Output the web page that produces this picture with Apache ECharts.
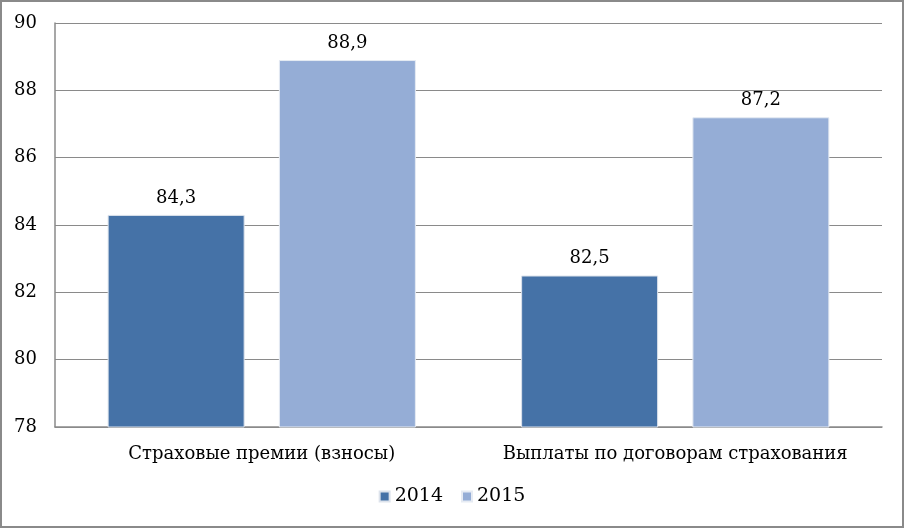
<!DOCTYPE html>
<html><head><meta charset="utf-8">
<script src="https://cdn.jsdelivr.net/npm/echarts@6/dist/echarts.min.js"></script>
<style>html,body{margin:0;padding:0;background:#fff}#c{width:904px;height:528px}</style>
</head><body><div id="c"></div>
<script>
var categories = ['Страховые премии (взносы)', 'Выплаты по договорам страхования'];
var seriesNames = ['2014', '2015'];
var values2014 = [84.3, 82.5];
var values2015 = [88.9, 87.2];
var colors = ['#4572A7', '#95ADD6'];
var font = '"DejaVu Serif", serif';
var fmt = function (p) { return String(p.value).replace('.', ','); };
var chart = echarts.init(document.getElementById('c'));
chart.setOption({
  animation: false,
  textStyle: { fontFamily: font },
  graphic: [{ type: 'rect', shape: { x: 1, y: 1, width: 902, height: 526 }, style: { fill: 'none', stroke: '#8a8a8a', lineWidth: 2 } }],
  legend: {
    bottom: 17, left: 'center', itemWidth: 10, itemHeight: 10, itemGap: 18,
    icon: 'rect', textStyle: { fontSize: 19, color: '#000', fontFamily: font },
    data: seriesNames
  },
  grid: { left: 55, right: 22, top: 23, bottom: 101 },
  xAxis: {
    type: 'category', data: categories,
    axisLine: { lineStyle: { color: '#8a8a8a', width: 1.5 } },
    axisTick: { show: false },
    axisLabel: { color: '#000', fontSize: 18, margin: 18, fontFamily: font, interval: 0, hideOverlap: false }
  },
  yAxis: {
    type: 'value', min: 78, max: 90, interval: 2,
    axisLine: { show: true, lineStyle: { color: '#8a8a8a', width: 1.5 } },
    axisTick: { show: false },
    splitLine: { lineStyle: { color: '#8a8a8a', width: 1.2 } },
    axisLabel: { color: '#000', fontSize: 18, margin: 18, fontFamily: font }
  },
  series: [
    { name: seriesNames[0], type: 'bar', data: values2014, barWidth: 137, barGap: '25%',
      itemStyle: { color: colors[0], borderColor: '#dde3ec', borderWidth: 1 },
      label: { show: true, position: 'top', distance: 8, fontSize: 18, color: '#000', formatter: fmt, fontFamily: font } },
    { name: seriesNames[1], type: 'bar', data: values2015, barWidth: 137,
      itemStyle: { color: colors[1], borderColor: '#e6ebf3', borderWidth: 1 },
      label: { show: true, position: 'top', distance: 8, fontSize: 18, color: '#000', formatter: fmt, fontFamily: font } }
  ]
});
</script></body></html>
